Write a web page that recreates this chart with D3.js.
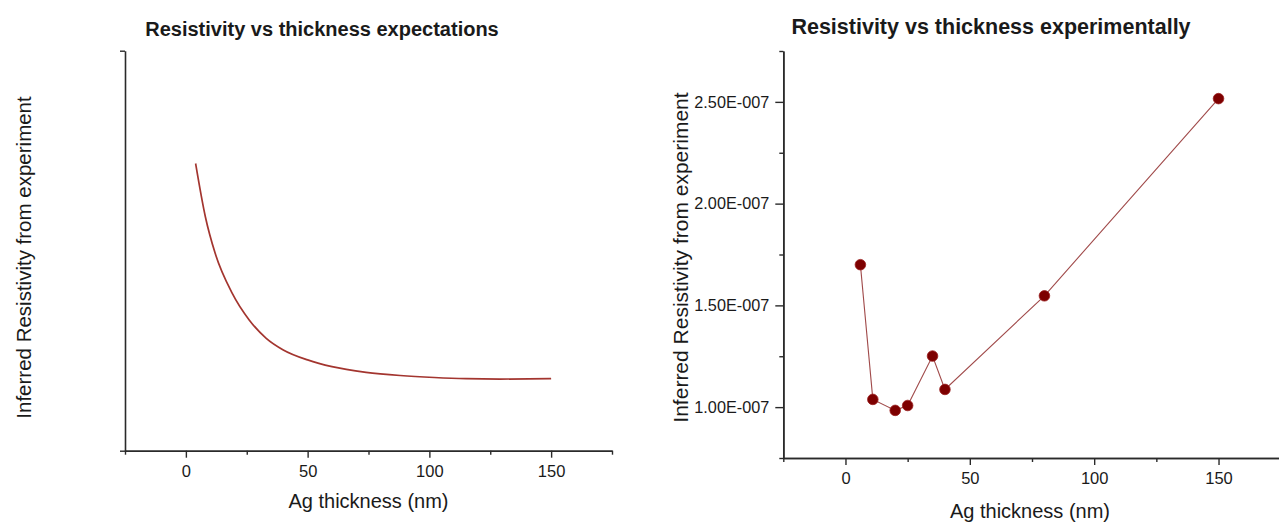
<!DOCTYPE html>
<html>
<head>
<meta charset="utf-8">
<script src="https://cdn.jsdelivr.net/npm/d3@7"></script>
<style>
  html, body { margin: 0; padding: 0; background: #fff; }
  svg { display: block; font-family: "Liberation Sans", Arial, sans-serif; }
</style>
</head>
<body>
<svg id="chart" width="1279" height="522"></svg>
<script>
// Expected trend: relative resistivity (arbitrary units) vs Ag thickness
const modelThickness = [4, 8, 12, 19, 26, 33, 40, 50, 60, 74, 88, 102, 115, 129, 150];
const modelResistivity = [71.8, 58.5, 49.4, 39.4, 32.7, 28.1, 25.2, 22.7, 21.0, 19.6, 18.8, 18.3, 18.0, 17.9, 18.0];

// Measured resistivity (ohm·m) vs Ag thickness (nm)
const expThickness = [6, 11, 20, 25, 35, 40, 80, 150];
const expResistivity = [1.70e-7, 1.038e-7, 0.984e-7, 1.008e-7, 1.251e-7, 1.087e-7, 1.547e-7, 2.516e-7];

// Axis ticks
const xMajorTicks = [0, 50, 100, 150];
const xMinorTicks = [-25, 25, 75, 125, 175];
const yMajorTicks = [1.0e-7, 1.5e-7, 2.0e-7, 2.5e-7];
const yMinorTicks = [0.75e-7, 1.25e-7, 1.75e-7, 2.25e-7, 2.75e-7];

const svg = d3.select("#chart");
const axisColor = "#2a2a2a";
const textColor = "#1a1a1a";

function styleAxis(g) {
  g.attr("font-size", 16.5).attr("font-family", "'Liberation Sans', Arial, sans-serif");
  g.selectAll("path.domain").attr("stroke", axisColor).attr("stroke-width", 1.6);
  g.selectAll(".tick line").attr("stroke", axisColor).attr("stroke-width", 1.4);
  g.selectAll(".tick text")
    .attr("fill", textColor)
    .attr("font-size", 16.5)
    .style("font-size", "16.5px");
}

// ---------- Left panel: expectations ----------
const xL = d3.scaleLinear().domain([-25, 175]).range([125, 612]);
const yL = d3.scaleLinear().domain([0, 100]).range([450.7, 50.7]);

const gL = svg.append("g");

gL.append("g")
  .attr("transform", `translate(0,${yL(0)})`)
  .call(d3.axisBottom(xL).tickValues(xMinorTicks).tickSize(4).tickSizeOuter(0).tickFormat(""))
  .call(styleAxis);
gL.append("g")
  .attr("transform", `translate(0,${yL(0)})`)
  .call(d3.axisBottom(xL).tickValues(xMajorTicks).tickSize(7).tickSizeOuter(0).tickPadding(8))
  .call(styleAxis);

gL.append("g")
  .attr("transform", `translate(${xL(-25)},0)`)
  .call(d3.axisLeft(yL).tickValues([0, 100]).tickSize(5).tickSizeOuter(0).tickFormat(""))
  .call(styleAxis);

gL.append("path")
  .datum(modelThickness.map((t, i) => [t, modelResistivity[i]]))
  .attr("fill", "none")
  .attr("stroke", "#a3352f")
  .attr("stroke-width", 1.7)
  .attr("d", d3.line().x(d => xL(d[0])).y(d => yL(d[1])).curve(d3.curveMonotoneX));

gL.append("text")
  .attr("x", 322).attr("y", 36)
  .attr("text-anchor", "middle")
  .attr("fill", textColor)
  .style("font-size", "20px").style("font-weight", "bold")
  .text("Resistivity vs thickness expectations");

gL.append("text")
  .attr("x", (xL(-25) + xL(175)) / 2).attr("y", 508)
  .attr("text-anchor", "middle")
  .attr("fill", textColor)
  .style("font-size", "20px")
  .text("Ag thickness (nm)");

gL.append("text")
  .attr("transform", "translate(31,257.5) rotate(-90)")
  .attr("text-anchor", "middle")
  .attr("fill", textColor)
  .style("font-size", "20.5px")
  .text("Inferred Resistivity from experiment");

// ---------- Right panel: experiment ----------
const xR = d3.scaleLinear().domain([-25, 175]).range([783.3, 1280.7]);
const yR = d3.scaleLinear().domain([0.75e-7, 2.75e-7]).range([458, 51]);

const gR = svg.append("g");

gR.append("g")
  .attr("transform", `translate(0,${yR(0.75e-7)})`)
  .call(d3.axisBottom(xR).tickValues(xMinorTicks).tickSize(4).tickSizeOuter(0).tickFormat(""))
  .call(styleAxis);
gR.append("g")
  .attr("transform", `translate(0,${yR(0.75e-7)})`)
  .call(d3.axisBottom(xR).tickValues(xMajorTicks).tickSize(7).tickSizeOuter(0).tickPadding(7.5))
  .call(styleAxis);

const sciFmt = v => (v / 1e-7).toFixed(2) + "E-007";
gR.append("g")
  .attr("transform", `translate(${xR(-25)},0)`)
  .call(d3.axisLeft(yR).tickValues(yMinorTicks).tickSize(4).tickSizeOuter(0).tickFormat(""))
  .call(styleAxis);
gR.append("g")
  .attr("transform", `translate(${xR(-25)},0)`)
  .call(d3.axisLeft(yR).tickValues(yMajorTicks).tickSize(8).tickSizeOuter(0).tickPadding(6).tickFormat(sciFmt))
  .call(styleAxis)
  .call(g => g.selectAll(".tick text")
    .attr("textLength", 75)
    .attr("lengthAdjust", "spacingAndGlyphs"));

const pts = expThickness.map((t, i) => [t, expResistivity[i]]);
gR.append("path")
  .datum(pts)
  .attr("fill", "none")
  .attr("stroke", "#a04a4a")
  .attr("stroke-width", 1.1)
  .attr("d", d3.line().x(d => xR(d[0])).y(d => yR(d[1])));

gR.selectAll("circle.pt")
  .data(pts)
  .join("circle")
  .attr("class", "pt")
  .attr("cx", d => xR(d[0]))
  .attr("cy", d => yR(d[1]))
  .attr("r", 5.3)
  .attr("fill", "#7d0000")
  .attr("stroke", "#9a2020")
  .attr("stroke-width", 0.8);

gR.append("text")
  .attr("x", 991).attr("y", 34)
  .attr("text-anchor", "middle")
  .attr("fill", textColor)
  .style("font-size", "21.5px").style("font-weight", "bold")
  .text("Resistivity vs thickness experimentally");

gR.append("text")
  .attr("x", 1030).attr("y", 518)
  .attr("text-anchor", "middle")
  .attr("fill", textColor)
  .style("font-size", "20px")
  .text("Ag thickness (nm)");

gR.append("text")
  .attr("transform", "translate(688,257.5) rotate(-90)")
  .attr("text-anchor", "middle")
  .attr("fill", textColor)
  .style("font-size", "21px")
  .text("Inferred Resistivity from experiment");
</script>
</body>
</html>
